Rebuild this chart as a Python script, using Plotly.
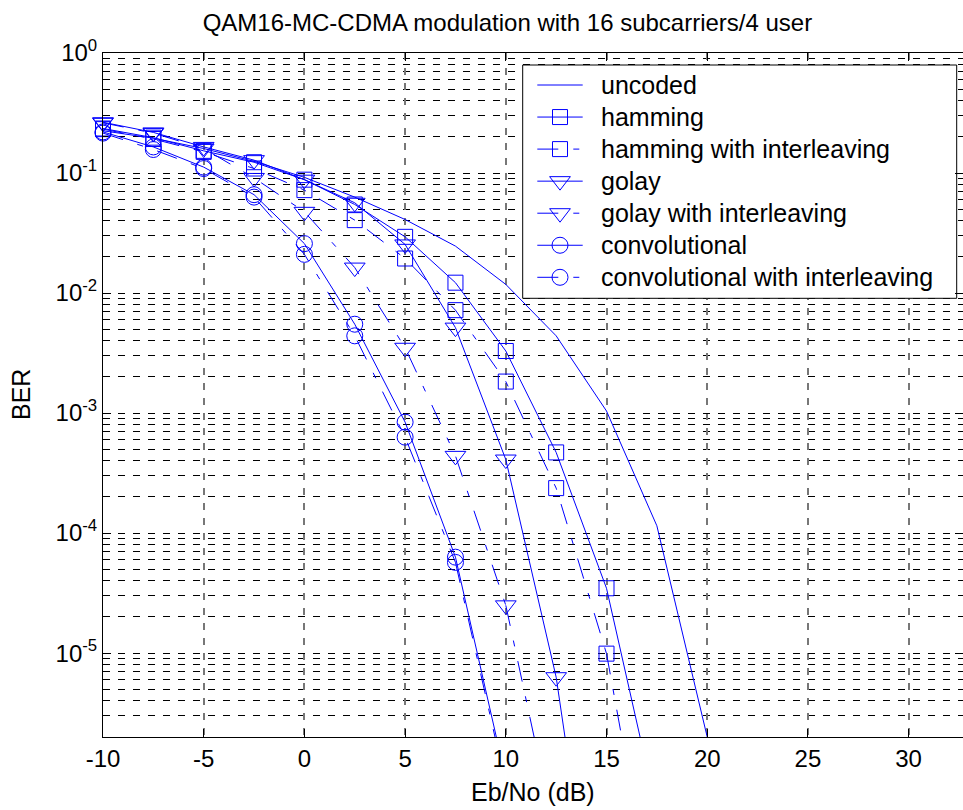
import plotly.graph_objects as go

# Eb/No sweep (dB)
EBNO = [-10, -7.5, -5, -2.5, 0, 2.5, 5, 7.5, 10, 12.5, 15, 17.5, 20]

# Bit error rates per scheme (points beyond the sweep end are omitted)
BER_UNCODED = [0.225, 0.195, 0.16, 0.125, 0.092, 0.063, 0.041, 0.0246, 0.0118, 0.0044, 0.00104, 1.15e-4, 2.0e-6]
BER_HAMMING = [0.235, 0.197, 0.153, 0.123, 0.088, 0.0547, 0.0294, 0.0122, 0.00329, 4.7e-4, 3.47e-5, 4.8e-7]
BER_HAMMING_IL = [0.232, 0.192, 0.15, 0.109, 0.072, 0.0405, 0.0194, 0.0072, 0.00183, 2.37e-4, 9.9e-6, 5.0e-8]
BER_GOLAY = [0.265, 0.218, 0.165, 0.128, 0.088, 0.0565, 0.0254, 0.00515, 4.1e-4, 6.3e-6, 9.0e-9]
BER_GOLAY_IL = [0.262, 0.215, 0.16, 0.091, 0.0475, 0.0163, 0.0035, 4.4e-4, 2.5e-5, 2.8e-7]
BER_CONV = [0.22, 0.165, 0.112, 0.066, 0.0258, 0.0055, 8.4e-4, 6.3e-5, 9.0e-7]
BER_CONV_IL = [0.215, 0.157, 0.109, 0.063, 0.021, 0.0044, 6.3e-4, 5.7e-5, 8.0e-7]

SERIES_NAMES = [
    "uncoded",
    "hamming",
    "hamming with interleaving",
    "golay",
    "golay with interleaving",
    "convolutional",
    "convolutional with interleaving",
]
SERIES_VALUES = [BER_UNCODED, BER_HAMMING, BER_HAMMING_IL, BER_GOLAY,
                 BER_GOLAY_IL, BER_CONV, BER_CONV_IL]

X_TICKS = [-10, -5, 0, 5, 10, 15, 20, 25, 30]
X_TICK_TEXT = ["-10", "-5", "0", "5", "10", "15", "20", "25", "30"]
Y_TICKS = [1, 1e-1, 1e-2, 1e-3, 1e-4, 1e-5]
Y_TICK_TEXT = ["10<sup>0</sup>", "10<sup>-1</sup>", "10<sup>-2</sup>",
               "10<sup>-3</sup>", "10<sup>-4</sup>", "10<sup>-5</sup>"]
Y_MINOR = [k * 10.0 ** e for e in range(-6, 0) for k in range(2, 10)]

X_RANGE = (-10, 32.7)
Y_MIN, Y_MAX = 2e-6, 1.0

BLUE = "#0000ff"
DASHDOT = "21px,15px,6px,15px"
STYLES = [
    dict(symbol=None, dash="solid", size=0),
    dict(symbol="square-open", dash="solid", size=15),
    dict(symbol="square-open", dash=DASHDOT, size=15),
    dict(symbol="triangle-down-open", dash="solid", size=18),
    dict(symbol="triangle-down-open", dash=DASHDOT, size=18),
    dict(symbol="circle-open", dash="solid", size=16),
    dict(symbol="circle-open", dash=DASHDOT, size=16),
]

FONT = "Liberation Sans, Arial, Helvetica, sans-serif"

# plot frame in page pixels
PLOT_L, PLOT_R, PLOT_T, PLOT_B = 103, 963, 53, 737
W, H = 963, 810


def fx(px):
    return (px - PLOT_L) / (PLOT_R - PLOT_L)


def fy(py):
    return (PLOT_B - py) / (PLOT_B - PLOT_T)


fig = go.Figure()

for name, vals, st in zip(SERIES_NAMES, SERIES_VALUES, STYLES):
    xs = EBNO[:len(vals)]
    n_in = sum(1 for v in vals if v >= Y_MIN * 0.999)
    line = dict(color=BLUE, width=1, dash=st["dash"])
    if st["symbol"] is None:
        fig.add_trace(go.Scatter(x=xs, y=vals, mode="lines", name=name,
                                 line=line, showlegend=False))
        continue
    # visible points with markers (markers may overhang the frame)
    fig.add_trace(go.Scatter(
        x=xs[:n_in], y=vals[:n_in], mode="lines+markers", name=name,
        line=line, cliponaxis=False, showlegend=False,
        marker=dict(symbol=st["symbol"], size=st["size"], color=BLUE,
                    line=dict(color=BLUE, width=1)),
    ))
    # tail segment running off the bottom of the frame
    if n_in < len(vals):
        fig.add_trace(go.Scatter(
            x=xs[n_in - 1:n_in + 1], y=vals[n_in - 1:n_in + 1], mode="lines",
            line=line, showlegend=False, hoverinfo="skip",
        ))

# ---- legend box, drawn on an overlay axis spanning the plot frame ----
LEG_BOX = (522.7, 65.0, 956.7, 298.3)   # left, top, right, bottom (px)
LEG_ROW0, LEG_ROW_STEP = 85.0, 32.05
LEG_LINE = (537.3, 582.7)
LEG_TEXT_X = 599.3

bx0, by0, bx1, by1 = LEG_BOX
fig.add_trace(go.Scatter(
    x=[fx(bx0), fx(bx1), fx(bx1), fx(bx0), fx(bx0)],
    y=[fy(by0), fy(by0), fy(by1), fy(by1), fy(by0)],
    mode="lines", fill="toself", fillcolor="white",
    line=dict(color="black", width=1), xaxis="x2", yaxis="y2",
    showlegend=False, hoverinfo="skip",
))
annotations = []
for i, (name, st) in enumerate(zip(SERIES_NAMES, STYLES)):
    ry = LEG_ROW0 + i * LEG_ROW_STEP
    fig.add_trace(go.Scatter(
        x=[fx(LEG_LINE[0]), fx(LEG_LINE[1])], y=[fy(ry), fy(ry)],
        mode="lines", line=dict(color=BLUE, width=1, dash=st["dash"]),
        xaxis="x2", yaxis="y2", showlegend=False, hoverinfo="skip",
    ))
    if st["symbol"] is not None:
        fig.add_trace(go.Scatter(
            x=[fx((LEG_LINE[0] + LEG_LINE[1]) / 2)], y=[fy(ry)], mode="markers",
            marker=dict(symbol=st["symbol"], size=st["size"], color=BLUE,
                        line=dict(color=BLUE, width=1)),
            xaxis="x2", yaxis="y2", showlegend=False, hoverinfo="skip",
            cliponaxis=False,
        ))
    annotations.append(dict(
        text=name, x=fx(LEG_TEXT_X), y=fy(ry), xref="x2", yref="y2",
        xanchor="left", yanchor="middle", showarrow=False,
        font=dict(family=FONT, size=25, color="black"),
    ))

axis_common = dict(
    showline=True, linecolor="black", linewidth=1, mirror="ticks",
    ticks="inside", tickcolor="black", ticklen=8, tickwidth=1,
    zeroline=False, tickfont=dict(family=FONT, size=24, color="black"),
)

xaxis = dict(
    range=list(X_RANGE), tickmode="array", tickvals=X_TICKS,
    ticktext=X_TICK_TEXT,
    showgrid=True, gridcolor="#777777", gridwidth=1.5, griddash="7px,8px",
    **axis_common,
)
yaxis = dict(
    type="log", range=[-5.69897, 0.0], tickmode="array",
    tickvals=Y_TICKS, ticktext=Y_TICK_TEXT,
    showgrid=True, gridcolor="black", gridwidth=1, griddash="7px,8px",
    minor=dict(tickmode="array", tickvals=Y_MINOR, showgrid=True,
               gridcolor="black", gridwidth=1, griddash="7px,8px",
               ticks="inside", ticklen=5, tickcolor="black"),
    **axis_common,
)

annotations += [
    dict(text="Eb/No (dB)", x=0.5, xref="paper", y=-0.0804, yref="paper",
         xanchor="center", yanchor="middle", showarrow=False,
         font=dict(family=FONT, size=25, color="black")),
    dict(text="BER", x=-0.0953, xref="paper", y=0.5, yref="paper",
         xanchor="center", yanchor="middle", textangle=-90, showarrow=False,
         font=dict(family=FONT, size=25, color="black")),
]

fig.update_layout(
    width=W, height=H,
    margin=dict(l=PLOT_L, r=W - PLOT_R, t=PLOT_T, b=H - PLOT_B),
    paper_bgcolor="white", plot_bgcolor="white",
    font=dict(family=FONT, size=24, color="black"),
    title=dict(text="QAM16-MC-CDMA modulation with 16 subcarriers/4 user",
               x=0.4703, xref="paper", xanchor="center",
               y=1 - 23 / 810, yref="container", yanchor="middle",
               font=dict(family=FONT, size=24, color="black")),
    showlegend=False,
    xaxis=xaxis,
    yaxis=yaxis,
    xaxis2=dict(overlaying="x", range=[0, 1], visible=False, fixedrange=True),
    yaxis2=dict(overlaying="y", range=[0, 1], visible=False, fixedrange=True),
    annotations=annotations,
)

fig.write_html("out.html")
